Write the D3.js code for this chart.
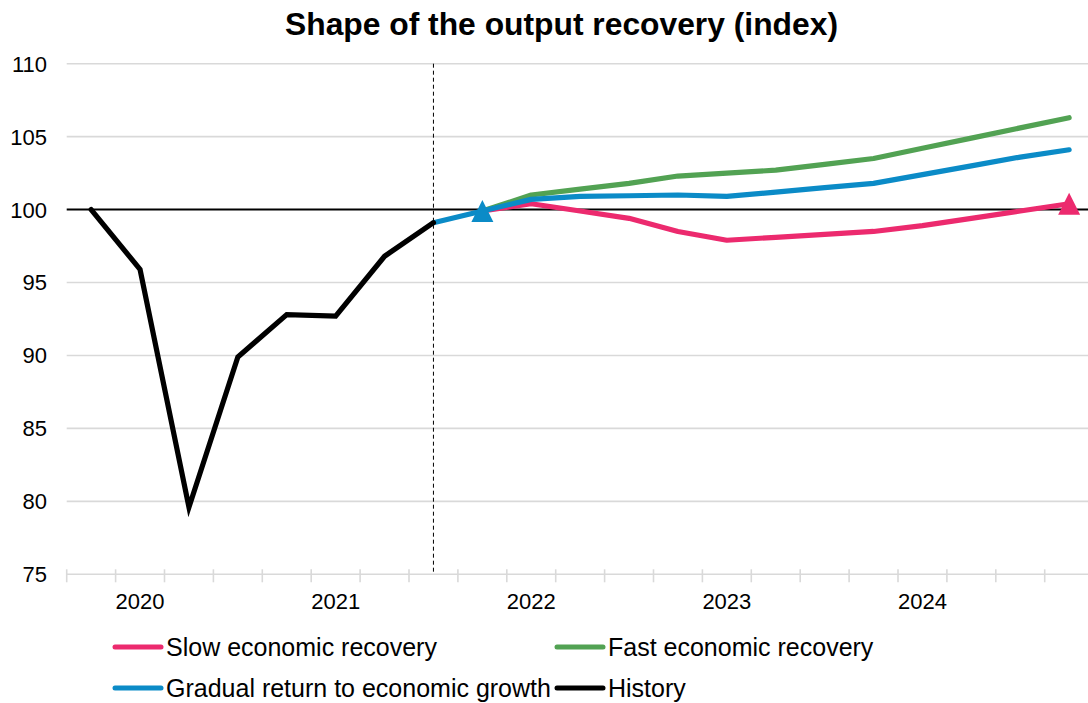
<!DOCTYPE html>
<html>
<head>
<meta charset="utf-8">
<script src="https://cdn.jsdelivr.net/npm/d3@7"></script>
<style>
  html, body { margin: 0; padding: 0; background: #fff; }
  svg { display: block; font-family: Arial, "Liberation Sans", sans-serif; }
</style>
</head>
<body>
<svg id="chart" width="1088" height="703"></svg>
<script>
// ---- data ----
const quarters = ["2019Q4",
  "2020Q1","2020Q2","2020Q3","2020Q4",
  "2021Q1","2021Q2","2021Q3","2021Q4",
  "2022Q1","2022Q2","2022Q3","2022Q4",
  "2023Q1","2023Q2","2023Q3","2023Q4",
  "2024Q1","2024Q2","2024Q3","2024Q4"];
const historyQuarters = ["2019Q4","2020Q1","2020Q2","2020Q3","2020Q4","2021Q1","2021Q2","2021Q3"];
const historyValues   = [100, 95.9, 79.6, 89.9, 92.8, 92.7, 96.8, 99.1];
const gradualQuarters = quarters.slice(7);
const gradualValues   = [99.1, 99.9, 100.7, 100.9, 100.95, 101.0, 100.9, 101.2, 101.5, 101.8, 102.4, 103.0, 103.6, 104.1];
const fastQuarters    = quarters.slice(8);
const fastValues      = [99.9, 101.0, 101.4, 101.8, 102.3, 102.5, 102.7, 103.1, 103.5, 104.2, 104.9, 105.6, 106.3];
const slowQuarters    = quarters.slice(8);
const slowValues      = [99.9, 100.4, 99.9, 99.4, 98.5, 97.9, 98.1, 98.3, 98.5, 98.9, 99.4, 99.9, 100.4];
const yTicks = [75, 80, 85, 90, 95, 100, 105, 110];
const yearLabels = {"2020Q1": "2020", "2021Q1": "2021", "2022Q1": "2022", "2023Q1": "2023", "2024Q1": "2024"};
const forecastStart = "2021Q3";
const title = "Shape of the output recovery (index)";
const legendItems = [
  {name: "Slow economic recovery", color: "#EC2A6E"},
  {name: "Fast economic recovery", color: "#52A253"},
  {name: "Gradual return to economic growth", color: "#0B8BC7"},
  {name: "History", color: "#000000"}
];

// ---- layout ----
const svg = d3.select("#chart");
const left = 66.7, bandW = 48.9;
const x = d3.scaleBand().domain(quarters).range([left, left + bandW * quarters.length]).padding(0);
const xc = q => x(q) + x.bandwidth() / 2;
const y = d3.scaleLinear().domain([75, 110]).range([574.3, 63.7]);
const right = 1088;

// title
svg.append("text").attr("x", 561.5).attr("y", 35).attr("text-anchor", "middle")
  .style("font-size", "31.8px").style("font-weight", "bold").attr("fill", "#000").text(title);

// gridlines
svg.append("g").selectAll("line").data(yTicks).join("line")
  .attr("x1", left).attr("x2", right)
  .attr("y1", d => y(d)).attr("y2", d => y(d))
  .attr("stroke", d => d === 100 ? "#000" : "#d9d9d9")
  .attr("stroke-width", d => d === 100 ? 2 : 1.6);

// y labels
svg.append("g").selectAll("text").data(yTicks).join("text")
  .attr("x", 47).attr("y", d => y(d)).attr("dy", "0.36em")
  .attr("text-anchor", "end").style("font-size", "22px").attr("fill", "#000")
  .text(d => d);

// x tick marks at band boundaries
svg.append("g").selectAll("line").data(quarters).join("line")
  .attr("x1", d => x(d)).attr("x2", d => x(d))
  .attr("y1", y(75) - 5).attr("y2", y(75) + 8)
  .attr("stroke", "#d9d9d9").attr("stroke-width", 1.6);

// x labels via axis
const xAxis = d3.axisBottom(x).tickValues(Object.keys(yearLabels))
  .tickFormat(d => yearLabels[d]).tickSize(0).tickPadding(0);
const gx = svg.append("g").attr("transform", `translate(0,${y(75)})`).call(xAxis);
gx.select(".domain").remove();
gx.selectAll("text").attr("y", 0).attr("dy", "1.57em").style("font-size", "22px")
  .style("font-family", "Arial, 'Liberation Sans', sans-serif").attr("fill", "#000");

// dashed vertical line
svg.append("line").attr("x1", xc(forecastStart)).attr("x2", xc(forecastStart))
  .attr("y1", y(110)).attr("y2", y(75))
  .attr("stroke", "#000").attr("stroke-width", 1).attr("stroke-dasharray", "4,3");

// lines
const line = d3.line().x(d => xc(d[0])).y(d => y(d[1]));
const series = [
  {q: slowQuarters, v: slowValues, color: legendItems[0].color, join: "round"},
  {q: fastQuarters, v: fastValues, color: legendItems[1].color, join: "round"},
  {q: gradualQuarters, v: gradualValues, color: legendItems[2].color, join: "round"},
  {q: historyQuarters, v: historyValues, color: legendItems[3].color, join: "miter"}
];
series.forEach(s => {
  svg.append("path").datum(d3.zip(s.q, s.v)).attr("d", line)
    .attr("fill", "none").attr("stroke", s.color).attr("stroke-width", 5.2)
    .attr("stroke-linejoin", s.join).attr("stroke-miterlimit", 4).attr("stroke-linecap", "round");
});

// triangle markers
const tri = "M0,-11L11,11L-11,11Z";
svg.append("path").attr("d", tri)
  .attr("transform", `translate(${xc(gradualQuarters[1])},${y(gradualValues[1])})`)
  .attr("fill", legendItems[2].color);
svg.append("path").attr("d", tri)
  .attr("transform", `translate(${xc(slowQuarters[slowQuarters.length-1])},${y(slowValues[slowValues.length-1])})`)
  .attr("fill", legendItems[0].color);

// legend
const legPos = [[115, 647], [557, 647], [115, 688], [557, 688]];
legendItems.forEach((d, i) => {
  const [lx, ly] = legPos[i];
  svg.append("line").attr("x1", lx).attr("x2", lx + 46).attr("y1", ly).attr("y2", ly)
    .attr("stroke", d.color).attr("stroke-width", 5).attr("stroke-linecap", "round");
  svg.append("text").attr("x", lx + 51).attr("y", ly).attr("dy", "0.35em")
    .style("font-size", "25px").attr("fill", "#000").text(d.name);
});
</script>
</body>
</html>
